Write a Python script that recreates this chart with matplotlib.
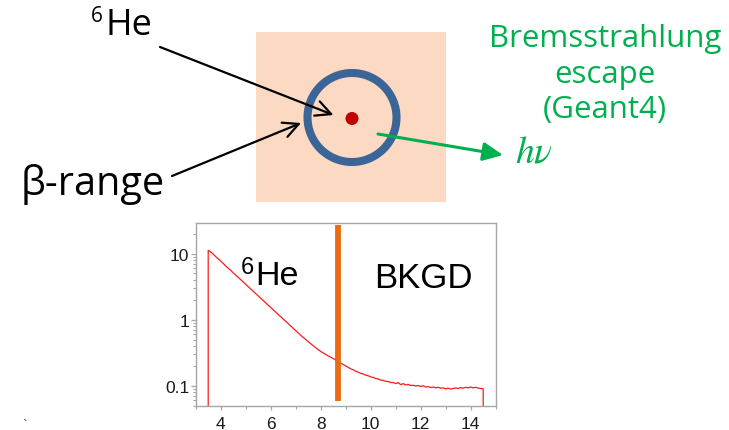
import numpy as np
import matplotlib
matplotlib.use("Agg")
import matplotlib.pyplot as plt
from matplotlib.patches import Rectangle, Circle
from matplotlib.ticker import FixedLocator, FixedFormatter, MultipleLocator, LogLocator, NullFormatter

# ---------------- data ----------------
energy_start, energy_stop, energy_step = 3.5, 14.5, 0.1
counts = [
    11.2, 10.6, 9.8, 9.0, 8.3, 7.7, 7.1, 6.5, 6.0, 5.6,
    5.1, 4.73, 4.37, 4.03, 3.72, 3.43, 3.16, 2.92, 2.69, 2.48,
    2.29, 2.11, 1.95, 1.80, 1.66, 1.53, 1.41, 1.30, 1.20, 1.11,
    1.02, 0.944, 0.871, 0.804, 0.741, 0.684, 0.631, 0.582, 0.540, 0.501,
    0.466, 0.434, 0.404, 0.377, 0.352, 0.331, 0.314, 0.298, 0.283, 0.270,
    0.258, 0.245, 0.233, 0.221, 0.209, 0.200, 0.190, 0.181, 0.175, 0.166,
    0.161, 0.154, 0.151, 0.145, 0.142, 0.136, 0.134, 0.129, 0.127, 0.122,
    0.121, 0.117, 0.116, 0.112, 0.112, 0.108, 0.112, 0.104, 0.108, 0.103,
    0.105, 0.101, 0.102, 0.099, 0.101, 0.098, 0.100, 0.096, 0.097, 0.094,
    0.096, 0.093, 0.095, 0.092, 0.093, 0.090, 0.092, 0.089, 0.091, 0.093,
    0.091, 0.094, 0.092, 0.095, 0.093, 0.096, 0.093, 0.095, 0.092, 0.091,
    0.090,
]
energies = np.round(np.arange(energy_start, energy_stop + 1e-9, energy_step), 1)
assert len(energies) == len(counts)

cut_energy = 8.71
cut_span = [0.059, 27.4]
xlim = (3.0, 15.0)
ylim = (0.05, 29.0)
xtick_values = [4, 6, 8, 10, 12, 14]
xtick_labels = ["4", "6", "8", "10", "12", "14"]
ytick_values = [0.1, 1, 10]
ytick_labels = ["0.1", "1", "10"]

# ---------------- figure ----------------
W, H = 729, 431
fig = plt.figure(figsize=(W / 100, H / 100), dpi=100)
fig.patch.set_facecolor("white")

# overlay in pixel coordinates for the diagram
ov = fig.add_axes([0, 0, 1, 1])
ov.set_xlim(0, W)
ov.set_ylim(H, 0)
ov.axis("off")

topfont = "Open Sans"
green = "#00B050"

ov.add_patch(Rectangle((255.6, 33), 190.8, 170, facecolor="#FBD9C2", edgecolor="none", zorder=1))
ov.add_patch(Circle((352, 118.5), 44.5, facecolor="none", edgecolor="#3B6497", linewidth=5.8, zorder=2))
ov.add_patch(Circle((352, 119.5), 6.5, facecolor="#C00000", edgecolor="none", zorder=3))

ov.text(91, 22, "6", fontsize=15, family=topfont, ha="left", va="baseline")
ov.text(106, 35, "He", fontsize=26, family=topfont, ha="left", va="baseline")
ov.text(21, 195, "β-range", fontsize=28.5, family=topfont, ha="left", va="baseline")

ov.annotate("", xy=(333.5, 116), xytext=(160, 48),
            arrowprops=dict(arrowstyle="->,head_length=0.5,head_width=0.25", lw=1.6,
                            color="black", shrinkA=0, shrinkB=0, mutation_scale=22), zorder=4)
ov.annotate("", xy=(301, 124), xytext=(172, 177),
            arrowprops=dict(arrowstyle="->,head_length=0.5,head_width=0.25", lw=1.6,
                            color="black", shrinkA=0, shrinkB=0, mutation_scale=22), zorder=4)
ov.annotate("", xy=(503, 156), xytext=(378, 135),
            arrowprops=dict(arrowstyle="-|>,head_length=0.6,head_width=0.28", lw=2.2,
                            color=green, shrinkA=0, shrinkB=0, mutation_scale=20), zorder=4)

for txt, yb in [("Bremsstrahlung", 47), ("escape", 83), ("(Geant4)", 118)]:
    ov.text(605, yb, txt, fontsize=22.5, family=topfont, color=green, ha="center", va="baseline")
ov.text(515, 163, r"$h\nu$", fontsize=27, math_fontfamily="stix", color=green, ha="left", va="baseline")

ov.text(22, 428, "`", fontsize=8, color="#1F3864", ha="left", va="baseline")

# chart labels (pixel coords)
cfont = "Liberation Sans"
ov.text(241, 274, "6", fontsize=17, family=cfont, ha="left", va="baseline", zorder=6)
ov.text(255, 285, "He", fontsize=24.5, family=cfont, ha="left", va="baseline", zorder=6)
ov.text(374, 288, "BKGD", fontsize=25, family=cfont, ha="left", va="baseline", zorder=6)

# ---------------- chart ----------------
ax = fig.add_axes([195.7 / W, 1 - 406.7 / H, 300.0 / W, 182.7 / H])
ax.set_zorder(0)
ov.set_zorder(1)
ov.patch.set_alpha(0)

x_line = np.concatenate([[energies[0]], energies, [energies[-1]]])
y_line = np.concatenate([[ylim[0]], counts, [ylim[0]]])
ax.plot(x_line, y_line, color="#FF1A1A", lw=0.9)
ax.vlines(cut_energy, cut_span[0], cut_span[1], color="#E96C13", lw=4.2)

ax.set_yscale("log")
ax.set_xlim(*xlim)
ax.set_ylim(*ylim)

ax.xaxis.set_major_locator(FixedLocator(xtick_values))
ax.xaxis.set_major_formatter(FixedFormatter(xtick_labels))
ax.xaxis.set_minor_locator(MultipleLocator(1))
ax.yaxis.set_major_locator(FixedLocator(ytick_values))
ax.yaxis.set_major_formatter(FixedFormatter(ytick_labels))
ax.yaxis.set_minor_locator(LogLocator(base=10, subs=np.arange(2, 10)))
ax.yaxis.set_minor_formatter(NullFormatter())

for s in ax.spines.values():
    s.set_color("#A6A6A6")
    s.set_linewidth(1.0)
ax.tick_params(axis="both", which="major", colors="#A6A6A6", labelcolor="#1A1A1A",
               labelsize=12.5, width=0.9)
ax.tick_params(axis="x", which="major", length=3.2, pad=4)
ax.tick_params(axis="y", which="major", length=3.6, pad=1)
ax.tick_params(axis="both", which="minor", colors="#A6A6A6", length=2, width=0.8)
for lab in ax.get_xticklabels() + ax.get_yticklabels():
    lab.set_family(cfont)

fig.savefig("out.png", dpi=100)
